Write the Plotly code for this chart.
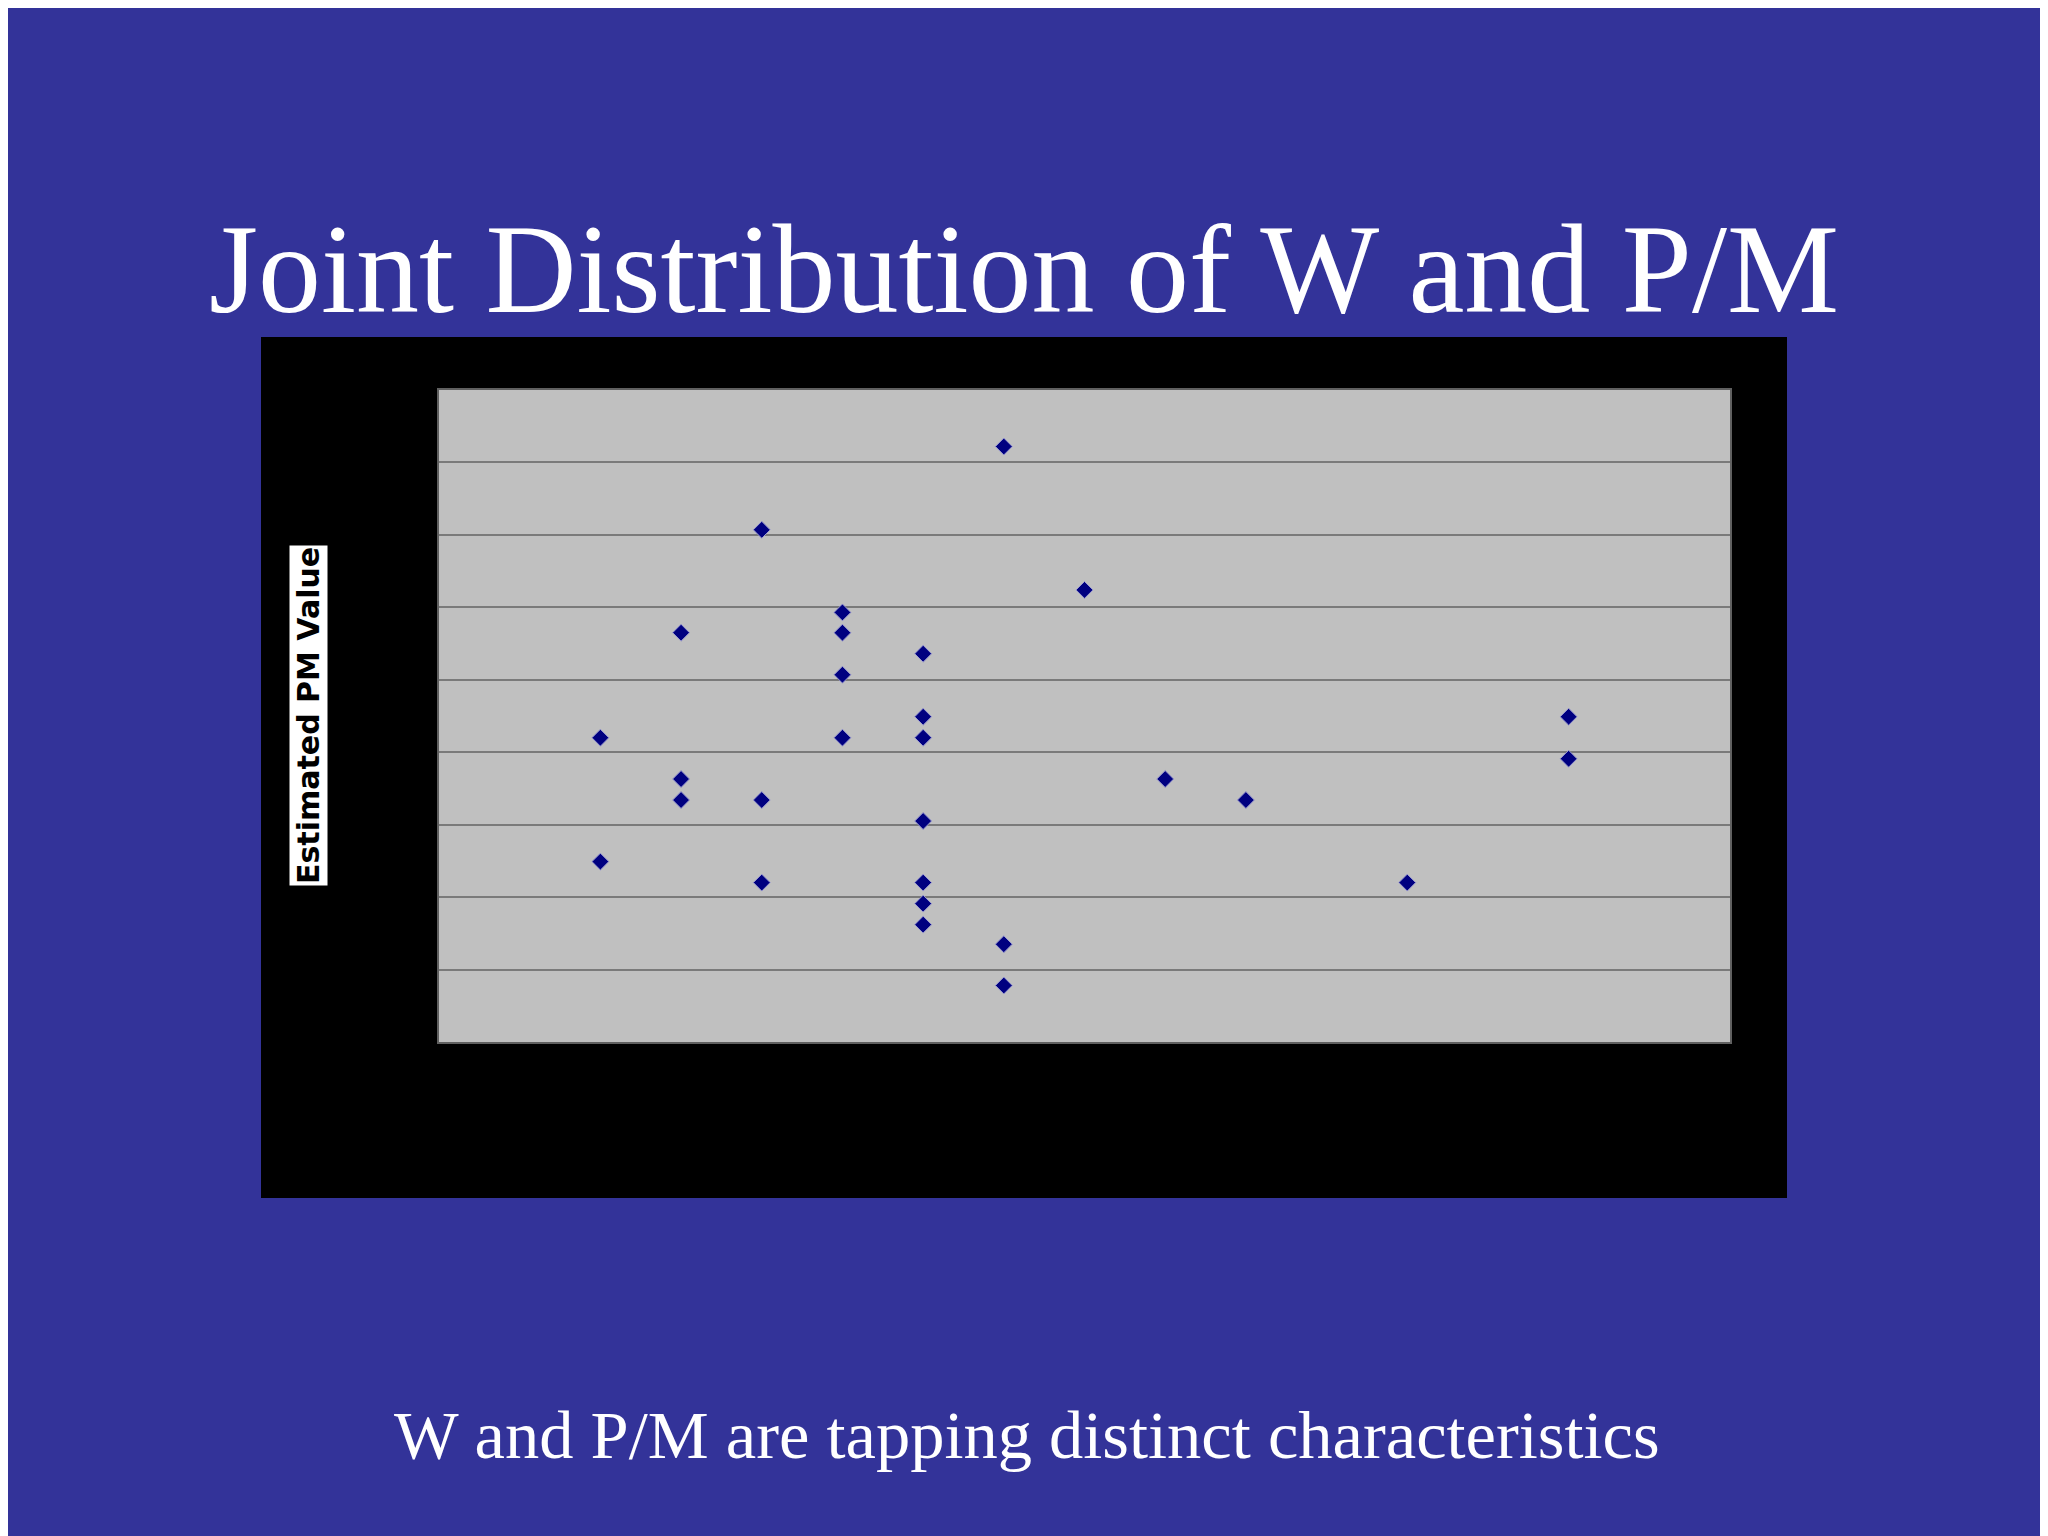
import plotly.graph_objects as go

# data (x = W, y = estimated PM value, in grid units)
w_values = [7, 4, 8, 5, 3, 5, 6, 5, 6, 14, 2, 5, 6, 14,
            3, 9, 3, 4, 10, 6, 2, 4, 6, 12, 6, 6, 7, 7]
pm_values = [8.22, 7.07, 6.24, 5.93, 5.65, 5.65, 5.36, 5.07, 4.49, 4.49,
             4.20, 4.20, 4.20, 3.91, 3.63, 3.63, 3.34, 3.34, 3.34, 3.05,
             2.49, 2.20, 2.20, 2.20, 1.91, 1.62, 1.35, 0.78]

title_text = "Joint Distribution of W and P/M"
subtitle_text = "W and P/M are tapping distinct characteristics"
y_title = "Estimated PM Value"

W, H = 2048, 1536
OFF = 8  # page body margin shifts the figure by this much


def fx(v):
    return (v - OFF) / W


def fy(v):
    return 1 - (v - OFF) / H


fig = go.Figure()
fig.add_trace(go.Scatter(
    x=w_values, y=pm_values, mode='markers',
    marker=dict(symbol='diamond', size=13, color='#000080',
                line=dict(color='#9a9ad0', width=1)),
    hoverinfo='x+y', showlegend=False,
))

# black chart frame, then grey plot area
fig.add_shape(type='rect', xref='paper', yref='paper', layer='below',
              x0=fx(261), x1=fx(1787), y0=fy(1198), y1=fy(337),
              fillcolor='black', line=dict(width=0))
fig.add_shape(type='rect', xref='paper', yref='paper', layer='below',
              x0=fx(439), x1=fx(1730), y0=fy(1042), y1=fy(390),
              fillcolor='#c0c0c0', line=dict(width=0))

fig.update_layout(
    width=W, height=H,
    margin=dict(l=0, r=0, t=0, b=0),
    paper_bgcolor='#333399',
    plot_bgcolor='rgba(0,0,0,0)',
    xaxis=dict(domain=[fx(439), fx(1730)], range=[0, 16],
               showgrid=False, zeroline=False, showticklabels=False,
               showline=True, mirror=True, linecolor='#606060', linewidth=2),
    yaxis=dict(domain=[fy(1042), fy(390)], range=[0, 9], dtick=1,
               showgrid=True, gridcolor='#7a7a7a', gridwidth=1.5,
               zeroline=False, showticklabels=False,
               showline=True, mirror=True, linecolor='#606060', linewidth=2),
    annotations=[
        dict(text=title_text, xref='paper', yref='paper',
             x=fx(1024), y=fy(270), xanchor='center', yanchor='middle',
             showarrow=False,
             font=dict(family='Liberation Serif, Times New Roman, serif', size=126, color='white')),
        dict(text=subtitle_text, xref='paper', yref='paper',
             x=fx(1027), y=fy(1435), xanchor='center', yanchor='middle',
             showarrow=False,
             font=dict(family='Liberation Serif, Times New Roman, serif', size=68.5, color='white')),
        dict(text='<b>' + y_title + '</b>', xref='paper', yref='paper',
             x=fx(308), y=fy(716), xanchor='center', yanchor='middle',
             textangle=-90, showarrow=False, bgcolor='white', borderpad=1,
             font=dict(family='DejaVu Sans, Verdana, sans-serif', size=30, color='black')),
    ],
)

fig.write_html("out.html")
